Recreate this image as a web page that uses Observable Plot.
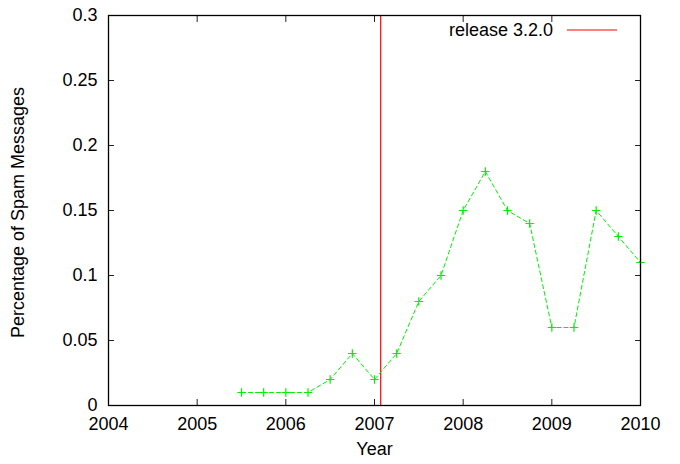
<!DOCTYPE html>
<html>
<head>
<meta charset="utf-8">
<script src="https://cdn.jsdelivr.net/npm/d3@7"></script>
<script src="https://cdn.jsdelivr.net/npm/@observablehq/plot@0.6"></script>
<style>
  html, body { margin: 0; padding: 0; background: #fff; }
</style>
</head>
<body>
<div id="chart"></div>
<script>
// Data
const quarters = [2005.5, 2005.75, 2006, 2006.25, 2006.5, 2006.75, 2007, 2007.25, 2007.5, 2007.75,
                  2008, 2008.25, 2008.5, 2008.75, 2009, 2009.25, 2009.5, 2009.75, 2010];
const spamShare = [0.01, 0.01, 0.01, 0.01, 0.02, 0.04, 0.02, 0.04, 0.08, 0.10,
                   0.15, 0.18, 0.15, 0.14, 0.06, 0.06, 0.15, 0.13, 0.11];
const releaseDates = [2007.07];
const releaseLabel = "release 3.2.0";
const xTicks = [2004, 2005, 2006, 2007, 2008, 2009, 2010];
const yTicks = [0, 0.05, 0.1, 0.15, 0.2, 0.25, 0.3];
const xTitle = "Year";
const yTitle = "Percentage of Spam Messages";

const rows = quarters.map((q, i) => ({year: q, value: spamShare[i]}));
const green = "#00f000";
const font = "'Liberation Sans', Arial, Helvetica, sans-serif";
const fs = 18;

function legend(index, scales, values, dims) {
  const ns = "http://www.w3.org/2000/svg";
  const g = document.createElementNS(ns, "g");
  const xr = dims.width - dims.marginRight;
  const y = dims.marginTop + 15;
  const line = document.createElementNS(ns, "line");
  line.setAttribute("x1", xr - 73);
  line.setAttribute("x2", xr - 23);
  line.setAttribute("y1", y);
  line.setAttribute("y2", y);
  line.setAttribute("stroke", "red");
  line.setAttribute("stroke-width", 1.2);
  const t = document.createElementNS(ns, "text");
  t.setAttribute("x", xr - 87);
  t.setAttribute("y", y);
  t.setAttribute("text-anchor", "end");
  t.setAttribute("dominant-baseline", "central");
  t.setAttribute("font-size", fs);
  t.setAttribute("fill", "black");
  t.textContent = releaseLabel;
  g.appendChild(t);
  g.appendChild(line);
  return g;
}

const chart = Plot.plot({
  width: 680,
  height: 464,
  marginLeft: 108,
  marginRight: 40,
  marginTop: 15,
  marginBottom: 59,
  style: {fontFamily: font, fontSize: fs + "px", background: "white", color: "black"},
  x: {domain: [2004, 2010], label: null},
  y: {domain: [0, 0.3], label: null},
  marks: [
    // inward ticks on all four sides
    Plot.axisX({anchor: "bottom", ticks: xTicks, tickSize: -6, tickFormat: () => "", label: null, stroke: "#222"}),
    Plot.axisX({anchor: "top", ticks: xTicks, tickSize: -6, tickFormat: () => "", label: null, stroke: "#222"}),
    Plot.axisY({anchor: "left", ticks: yTicks, tickSize: -6, tickFormat: () => "", label: null, stroke: "#222"}),
    Plot.axisY({anchor: "right", ticks: yTicks, tickSize: -6, tickFormat: () => "", label: null, stroke: "#222"}),
    // tick labels
    Plot.axisX({anchor: "bottom", ticks: xTicks, tickSize: 0, tickPadding: 12, tickFormat: "d", label: null, fontSize: fs}),
    Plot.axisY({anchor: "left", ticks: yTicks, tickSize: 0, tickPadding: 11, tickFormat: d => String(+d.toFixed(2)), label: null, fontSize: fs}),
    // axis titles
    Plot.text([xTitle], {frameAnchor: "bottom", textAnchor: "middle", dy: 49, fontSize: fs, text: d => d}),
    Plot.text([yTitle], {frameAnchor: "left", textAnchor: "middle", dx: -90, dy: 2, rotate: -90, fontSize: fs, text: d => d}),
    // release marker
    Plot.ruleX(releaseDates, {x: d => d, stroke: "red", strokeWidth: 1.2}),
    // data
    Plot.line(rows, {x: "year", y: "value", stroke: green, strokeWidth: 1, strokeDasharray: "4,3"}),
    Plot.dot(rows, {x: "year", y: "value", symbol: "plus", r: 2.8, stroke: green, strokeWidth: 1.2}),
    legend,
    Plot.frame({stroke: "black", strokeWidth: 1.3})
  ]
});
document.getElementById("chart").appendChild(chart);
</script>
</body>
</html>
